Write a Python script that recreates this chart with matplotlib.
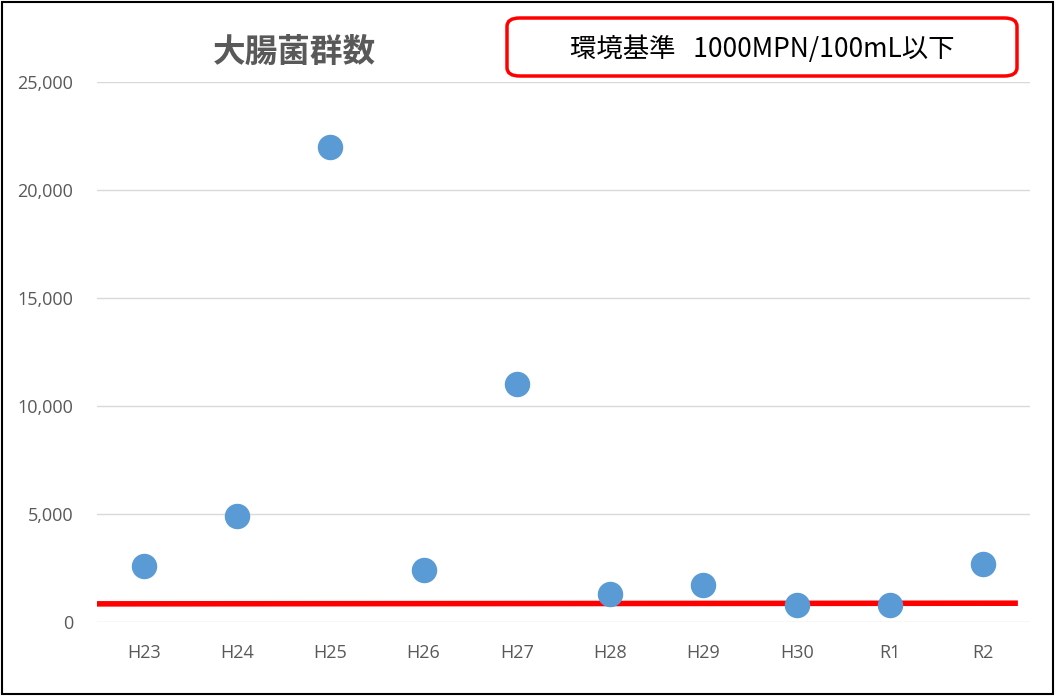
import matplotlib.pyplot as plt
from matplotlib.patches import Rectangle, FancyBboxPatch

plt.rcParams['font.family'] = ['Noto Sans CJK JP', 'DejaVu Sans']

years = ['H23', 'H24', 'H25', 'H26', 'H27', 'H28', 'H29', 'H30', 'R1', 'R2']
counts = [2600, 4900, 22000, 2400, 11000, 1300, 1700, 800, 800, 2700]
# hand-drawn standard line (start, end)
line_x = [-0.5, 9.37]
line_y = [840, 870]
title = '大腸菌群数'
note = '環境基準   1000MPN/100mL以下'

fig = plt.figure(figsize=(10.56, 6.97), dpi=100)
ax = fig.add_axes([97 / 1056, 1 - 622 / 697, 933 / 1056, 540 / 697])

ax.plot(line_x, line_y, color='#FF0000', lw=4, solid_capstyle='butt', zorder=2)
ax.scatter(range(len(years)), counts, s=300, color='#5B9BD5', zorder=3, clip_on=False)

ax.set_xlim(-0.5, len(years) - 0.5)
ax.set_ylim(0, 25000)
ax.set_yticks(range(0, 25001, 5000))
ax.set_yticklabels([f'{v:,}' for v in range(0, 25001, 5000)])
ax.set_xticks(range(len(years)))
ax.set_xticklabels(years)
ax.yaxis.grid(True, color='#D9D9D9', lw=1)
ax.set_axisbelow(True)
for s in ax.spines.values():
    s.set_visible(False)
ax.tick_params(length=0, labelsize=13, colors='#595959')
ax.tick_params(axis='x', pad=16)
ax.tick_params(axis='y', pad=17)
for lab in ax.get_xticklabels() + ax.get_yticklabels():
    lab.set_family(['Open Sans', 'DejaVu Sans'])

fig.text(294 / 1056, 1 - 52 / 697, title, fontsize=23.5, fontweight='bold',
         color='#595959', ha='center', va='center')

box = FancyBboxPatch((507 / 1056, 1 - 76 / 697), 510 / 1056, 58 / 697,
                     boxstyle='round,pad=0,rounding_size=0.012',
                     transform=fig.transFigure, fc='white', ec='#FF0000', lw=2.5)
fig.patches.append(box)
fig.text(762 / 1056, 1 - 49 / 697, note, fontsize=19, color='black',
         ha='center', va='center')

fig.patches.append(Rectangle((0.002, 0.004), 0.995, 0.993, transform=fig.transFigure,
                             fill=False, ec='black', lw=1.5))

plt.savefig('out.png', dpi=100)
